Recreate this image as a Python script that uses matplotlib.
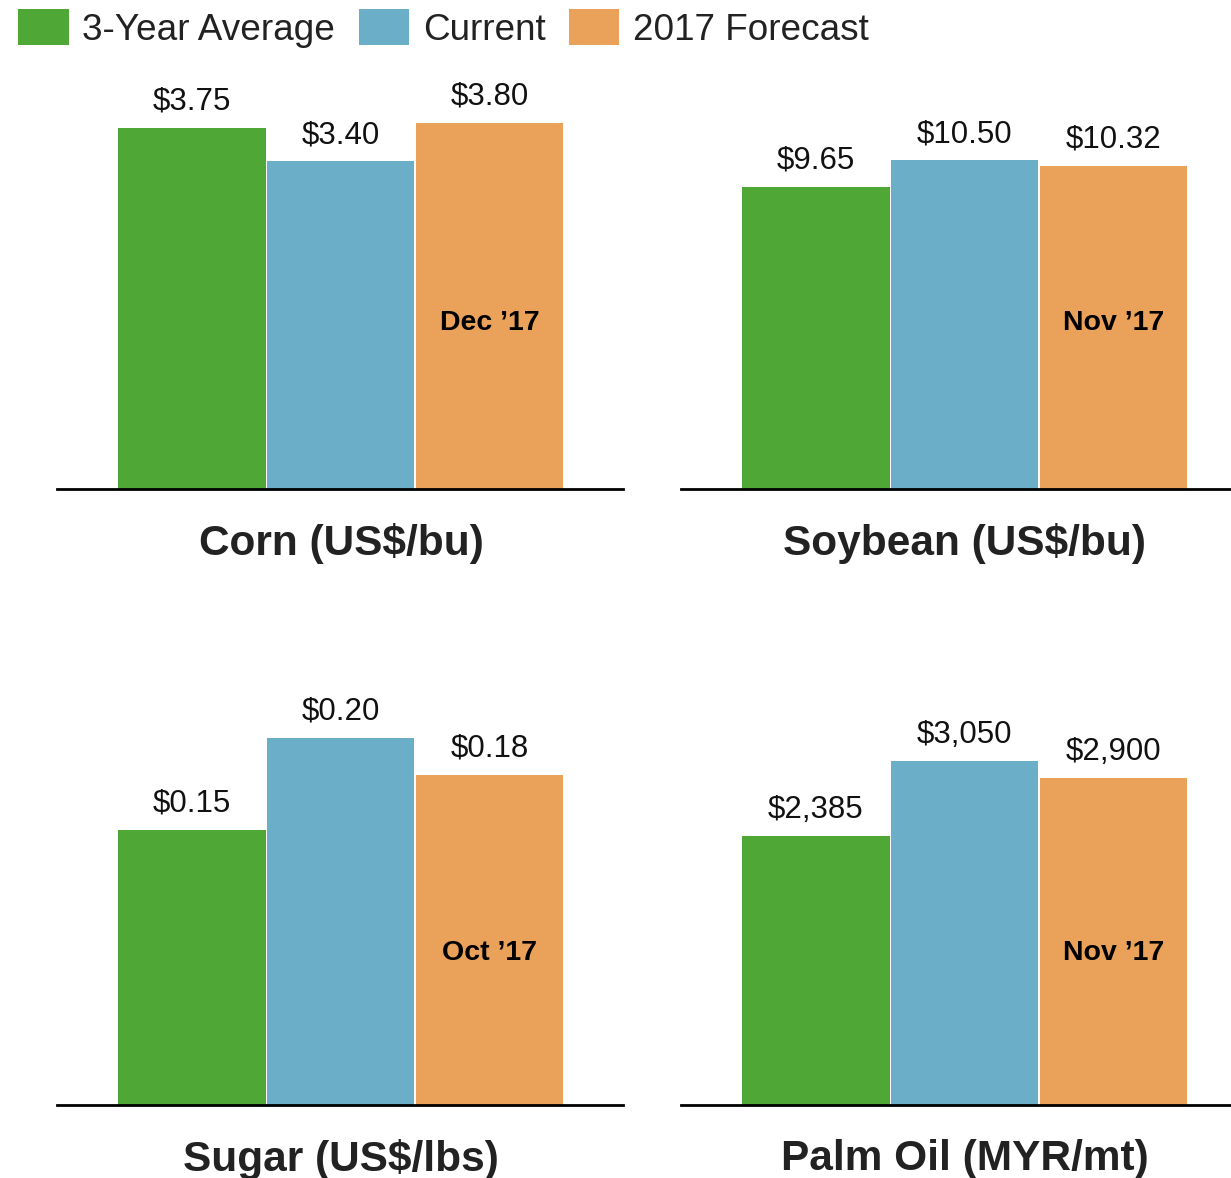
import matplotlib
matplotlib.use("Agg")
import matplotlib.pyplot as plt
from matplotlib.patches import Patch
from matplotlib.transforms import blended_transform_factory

plt.rcParams['font.family'] = ['Liberation Sans', 'DejaVu Sans']

series = ["3-Year Average", "Current", "2017 Forecast"]
colors = ["#4fa736", "#6aaec8", "#eaa15a"]

titles = ["Corn (US$/bu)", "Soybean (US$/bu)", "Sugar (US$/lbs)", "Palm Oil (MYR/mt)"]
corn = [3.75, 3.40, 3.80]
soybean = [9.65, 10.50, 10.32]
sugar = [0.15, 0.20, 0.18]
palm_oil = [2385, 3050, 2900]
corn_labels = ["$3.75", "$3.40", "$3.80"]
soybean_labels = ["$9.65", "$10.50", "$10.32"]
sugar_labels = ["$0.15", "$0.20", "$0.18"]
palm_oil_labels = ["$2,385", "$3,050", "$2,900"]
forecast_months = ["Dec \u201917", "Nov \u201917", "Oct \u201917", "Nov \u201917"]

W, H = 1231, 1178
fig = plt.figure(figsize=(W / 100, H / 100), dpi=100)

panels = [
    (corn, corn_labels, 57, 489, 4.243, 0.406),
    (soybean, soybean_labels, 681, 489, 13.07, 0.406),
    (sugar, sugar_labels, 57, 1105, 0.2229, 0.372),
    (palm_oil, palm_oil_labels, 681, 1105, 3626, 0.372),
]

for i, (vals, labs, x0, base, ymax, inner_y) in enumerate(panels):
    ax = fig.add_axes([x0 / W, 1 - base / H, 566 / W, 409 / H])
    xs = list(range(len(vals)))
    ax.bar(xs, vals, width=0.987, color=colors, edgecolor='none')
    ax.set_xlim(-0.906, 2.893)
    ax.set_ylim(0, ymax)
    for s in ['top', 'right', 'left']:
        ax.spines[s].set_visible(False)
    ax.spines['bottom'].set_linewidth(2.0)
    ax.spines['bottom'].set_color('black')
    ax.set_xticks([])
    ax.set_yticks([])
    ax.patch.set_alpha(0)
    for x, v, l in zip(xs, vals, labs):
        ax.annotate(l, xy=(x, v), xytext=(0, 8), textcoords='offset points',
                    ha='center', va='bottom', fontsize=22.5, color='#111111')
    tr = blended_transform_factory(ax.transData, ax.transAxes)
    ax.text(2, inner_y, forecast_months[i], transform=tr, ha='center', va='center',
            fontsize=20.5, fontweight='bold', color='black')
    ax.annotate(titles[i], xy=(1, 0), xycoords=tr, xytext=(0, -39),
                textcoords='offset points', ha='center', va='center',
                fontsize=30.5, fontweight='bold', color='#222222',
                annotation_clip=False)

handles = [Patch(facecolor=c, edgecolor='none') for c in colors]
fig.legend(handles, series, loc='upper left', bbox_to_anchor=(0 / W, 1 + 9 / H),
           ncol=3, frameon=False, fontsize=26.6, handlelength=1.36, handleheight=1.12,
           handletextpad=0.37, columnspacing=0.64, borderpad=0.0, labelcolor='#222222')

fig.savefig("out.png", dpi=100)
